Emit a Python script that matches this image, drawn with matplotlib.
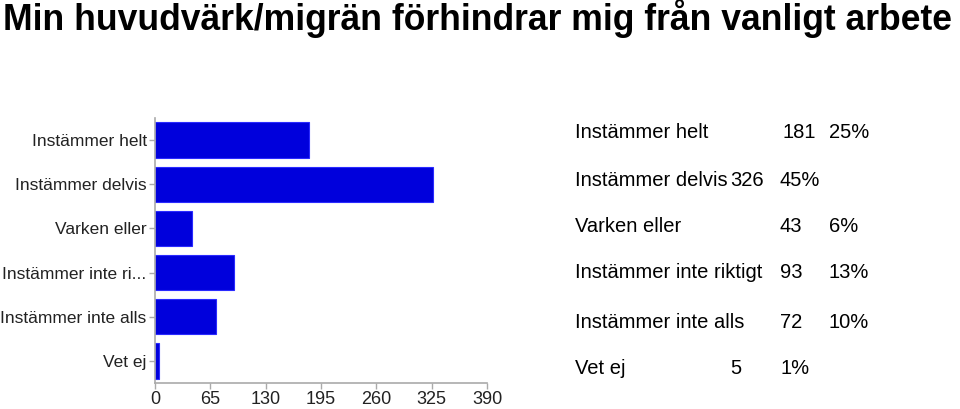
import matplotlib.pyplot as plt

plt.rcParams["font.family"] = ["Liberation Sans", "DejaVu Sans"]

TITLE = "Min huvudvärk/migrän förhindrar mig från vanligt arbete"
bar_labels = ["Instämmer helt", "Instämmer delvis", "Varken eller",
              "Instämmer inte ri...", "Instämmer inte alls", "Vet ej"]
full_labels = ["Instämmer helt", "Instämmer delvis", "Varken eller",
               "Instämmer inte riktigt", "Instämmer inte alls", "Vet ej"]
counts = [181, 326, 43, 93, 72, 5]
percents = ["25%", "45%", "6%", "13%", "10%", "1%"]
x_ticks = [0, 65, 130, 195, 260, 325, 390]

# pixel x of count / percent columns in the summary table (uneven as in source)
count_x = [782, 730, 780, 780, 780, 730]
pct_x = [829, 780, 829, 829, 829, 780]
row_y = [132, 180, 227, 273, 322, 369]

W, H = 960, 409


def main():
    fig = plt.figure(figsize=(W / 100, H / 100), dpi=100)
    fig.patch.set_facecolor("white")

    fig.text(3 / W, 1 - 19 / H, TITLE, fontsize=25.6, fontweight="bold",
             va="center", ha="left", color="black")

    ax = fig.add_axes([155 / W, (H - 383) / H, 332 / W, 265 / H])
    ypos = list(range(len(counts)))
    ax.barh(ypos, counts, height=0.8, color="#0000dc", edgecolor="#2a2aff",
            linewidth=0.8)
    ax.set_xlim(0, 390)
    ax.set_ylim(len(counts) - 0.5, -0.5)
    ax.set_xticks(x_ticks)
    ax.set_yticks(ypos)
    ax.set_yticklabels(bar_labels)
    for s in ("top", "right"):
        ax.spines[s].set_visible(False)
    for s in ("left", "bottom"):
        ax.spines[s].set_color("#aaaaaa")
        ax.spines[s].set_linewidth(1.2)
    ax.tick_params(axis="both", colors="#aaaaaa", labelcolor="#222222",
                   labelsize=12.5, length=4, width=1)
    ax.tick_params(axis="y", pad=2)
    ax.tick_params(axis="x", labelsize=13, pad=2)

    for lab, c, p, cx, px, y in zip(full_labels, counts, percents,
                                    count_x, pct_x, row_y):
        fy = 1 - y / H
        fig.text(575 / W, fy, lab, fontsize=14.5, va="center", ha="left")
        fig.text(cx / W, fy, str(c), fontsize=14.5, va="center", ha="left")
        fig.text(px / W, fy, p, fontsize=14.5, va="center", ha="left")

    fig.savefig("out.png", dpi=100)


if __name__ == "__main__":
    main()
